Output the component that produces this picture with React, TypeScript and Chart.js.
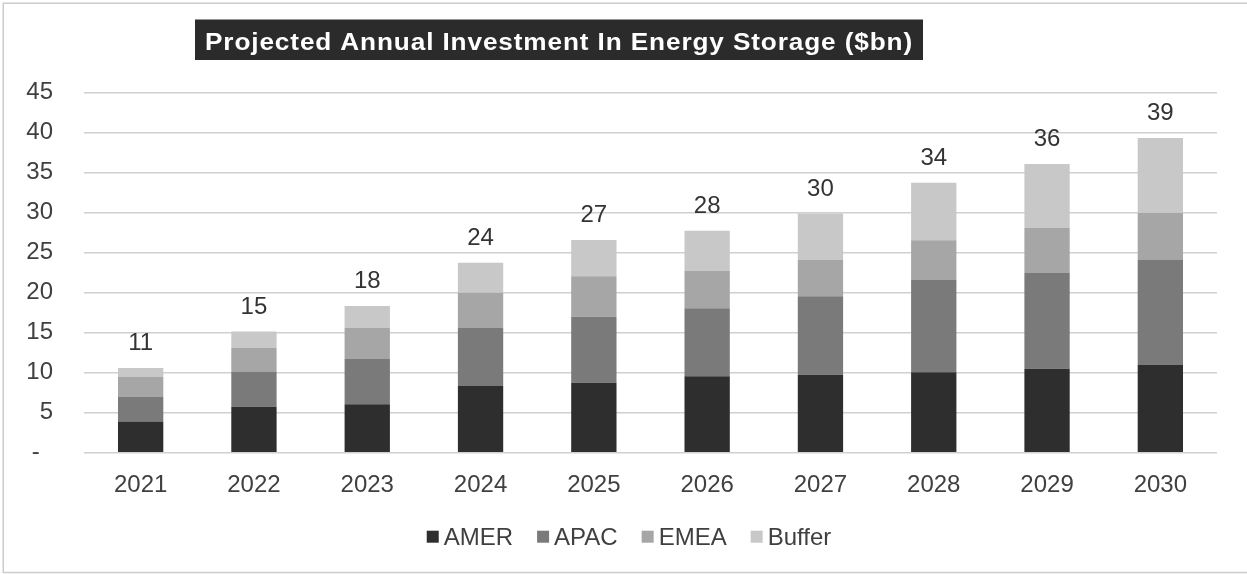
import React, { useEffect, useRef } from "react";
import { Chart, registerables } from "chart.js";

Chart.register(...registerables);

// ---------- data ----------
const years = ["2021", "2022", "2023", "2024", "2025", "2026", "2027", "2028", "2029", "2030"];
const amer = [3.9, 5.75, 6.05, 8.35, 8.75, 9.55, 9.75, 10.05, 10.5, 10.95];
const apac = [3.05, 4.35, 5.65, 7.3, 8.25, 8.5, 9.8, 11.6, 11.95, 13.2];
const emea = [2.5, 3.0, 3.9, 4.35, 5.05, 4.65, 4.55, 4.9, 5.65, 5.8];
const buffer = [1.15, 2.05, 2.75, 3.75, 4.55, 5.05, 5.8, 7.2, 8.0, 9.4];
const seriesNames = ["AMER", "APAC", "EMEA", "Buffer"];
const seriesColors = ["#2e2e2e", "#7a7a7a", "#a6a6a6", "#c8c8c8"];
const yTickValues = [0, 5, 10, 15, 20, 25, 30, 35, 40, 45];
const yTickLabels = ["-  ", "5", "10", "15", "20", "25", "30", "35", "40", "45"];
const titleText = "Projected Annual Investment In Energy Storage ($bn)";

const FONT = "'Liberation Sans', Arial, sans-serif";
const TEXT = "#404040";

const framePlugin = {
  id: "frame",
  beforeDraw(chart: any) {
    const ctx = chart.ctx;
    ctx.save();
    ctx.fillStyle = "#ffffff";
    ctx.fillRect(0, 0, chart.width, chart.height);
    ctx.strokeStyle = "#cccccc";
    ctx.lineWidth = 1.5;
    ctx.beginPath();
    ctx.moveTo(chart.width + 5, 3.25);
    ctx.lineTo(3.25, 3.25);
    ctx.lineTo(3.25, 572.5);
    ctx.lineTo(chart.width + 5, 572.5);
    ctx.stroke();
    ctx.restore();
  },
};

const titlePlugin = {
  id: "titleBox",
  afterDraw(chart: any) {
    const ctx = chart.ctx;
    ctx.save();
    const boxL = 195;
    const boxR = 923;
    const targetW = 708;
    ctx.fillStyle = "#2b2b2b";
    ctx.fillRect(boxL, 19.5, boxR - boxL, 40.5);
    ctx.font = `bold 24px ${FONT}`;
    ctx.fillStyle = "#ffffff";
    ctx.textBaseline = "alphabetic";
    ctx.textAlign = "left";
    if ("letterSpacing" in ctx) (ctx as any).letterSpacing = "0.8px";
    const w0 = ctx.measureText(titleText).width;
    const startX = (boxL + boxR) / 2 - targetW / 2;
    ctx.translate(startX, 49.5);
    ctx.scale(targetW / w0, 1);
    ctx.fillText(titleText, 0, 0);
    ctx.restore();
  },
};

const totalsPlugin = {
  id: "totals",
  afterDatasetsDraw(chart: any) {
    const ctx = chart.ctx;
    ctx.save();
    ctx.font = `24px ${FONT}`;
    ctx.fillStyle = "#333333";
    ctx.textAlign = "center";
    ctx.textBaseline = "alphabetic";
    const n = chart.data.labels.length;
    for (let i = 0; i < n; i++) {
      let total = 0;
      let top = Infinity;
      let x = 0;
      chart.data.datasets.forEach((ds: any, di: number) => {
        total += ds.data[i];
        const el = chart.getDatasetMeta(di).data[i];
        if (el.y < top) top = el.y;
        x = el.x;
      });
      ctx.fillText(String(Math.round(total)), x, top - 18);
    }
    ctx.restore();
  },
};

const legendPlugin = {
  id: "customLegend",
  afterDraw(chart: any) {
    const ctx = chart.ctx;
    ctx.save();
    ctx.font = `24px ${FONT}`;
    const box = 12;
    const gap = 5;
    const spacing = 24;
    const items = chart.data.datasets.map((ds: any) => ({
      label: ds.label,
      color: ds.backgroundColor,
      w: ctx.measureText(ds.label).width,
    }));
    let total = 0;
    items.forEach((it: any, i: number) => {
      total += box + gap + it.w + (i < items.length - 1 ? spacing : 0);
    });
    let x = 629 - total / 2;
    const cy = 536.7;
    items.forEach((it: any) => {
      ctx.fillStyle = it.color;
      ctx.fillRect(x, cy - box / 2, box, box);
      ctx.fillStyle = TEXT;
      ctx.textAlign = "left";
      ctx.textBaseline = "alphabetic";
      ctx.fillText(it.label, x + box + gap, 545);
      x += box + gap + it.w + spacing;
    });
    ctx.restore();
  },
};

export default function App() {
  const canvasRef = useRef<HTMLCanvasElement | null>(null);

  useEffect(() => {
    if (!canvasRef.current) return;
    const series = [amer, apac, emea, buffer];
    const chart = new Chart(canvasRef.current, {
      type: "bar",
      data: {
        labels: years,
        datasets: series.map((d, i) => ({
          label: seriesNames[i],
          data: d,
          backgroundColor: seriesColors[i],
          borderWidth: 0,
          barPercentage: 0.4,
          categoryPercentage: 1,
        })),
      },
      options: {
        responsive: false,
        animation: false,
        layout: { padding: { left: 0, right: 30, top: 92.7, bottom: 0 } },
        plugins: {
          legend: { display: false },
          title: { display: false },
          tooltip: { enabled: false },
        },
        scales: {
          x: {
            stacked: true,
            grid: { display: false, drawTicks: false },
            border: { display: false },
            ticks: {
              color: TEXT,
              font: { family: FONT, size: 24 },
              padding: 18,
              maxRotation: 0,
            },
            afterFit(scale: any) {
              scale.height = 121.3;
            },
          },
          y: {
            stacked: true,
            min: 0,
            max: 45,
            grid: { color: "#d0d0d0", lineWidth: 1.5, drawTicks: false },
            border: { display: false },
            ticks: {
              stepSize: 5,
              color: TEXT,
              font: { family: FONT, size: 24 },
              padding: 31,
              callback: (value: any) => {
                const idx = yTickValues.indexOf(Number(value));
                return idx >= 0 ? yTickLabels[idx] : String(value);
              },
            },
            afterFit(scale: any) {
              scale.width = 84;
            },
          },
        },
      },
      plugins: [framePlugin, titlePlugin, totalsPlugin, legendPlugin],
    });
    return () => chart.destroy();
  }, []);

  return (
    <div style={{ position: "fixed", left: 0, top: 0, width: 1247, height: 574 }}>
      <canvas ref={canvasRef} width={1247} height={574} style={{ display: "block" }} />
    </div>
  );
}
